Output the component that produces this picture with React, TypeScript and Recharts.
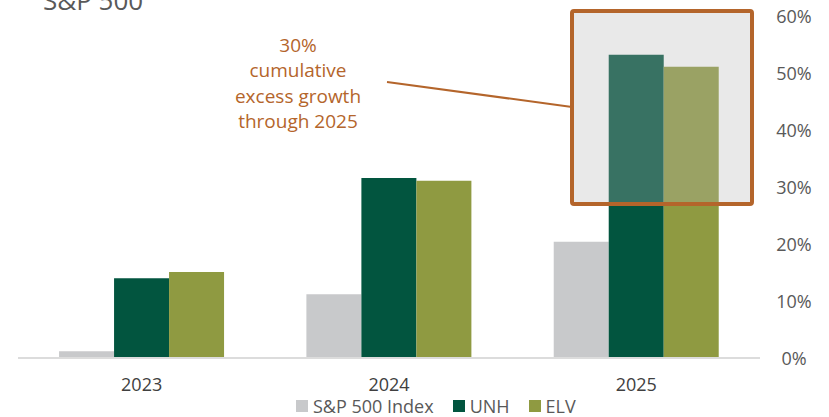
import { Bar, BarChart, Legend, XAxis, YAxis } from 'recharts'

// cumulative growth, % (read off the reference)
const years = ['2023', '2024', '2025']
const spxGrowth = [1.2, 11.2, 20.4]
const unhGrowth = [14.0, 31.6, 53.2]
const elvGrowth = [15.1, 31.1, 51.1]
const yTicks = [0, 10, 20, 30, 40, 50, 60]
const legendOrder = ['S&P 500 Index', 'UNH', 'ELV']
const noteLines = ['30%', 'cumulative', 'excess growth', 'through 2025']

const data = years.map((year, i) => ({
    year,
    spx: spxGrowth[i],
    unh: unhGrowth[i],
    elv: elvGrowth[i],
}))

const FONT = '"Open Sans", sans-serif'
const ACCENT = '#b4652b'

const YTick = ({ x, y, payload }: any) => (
    <text x={x + 34} y={y} textAnchor="middle" dominantBaseline="central" fill="#595959" fontSize={18} fontFamily={FONT}>
        {payload.value}%
    </text>
)

const XTick = ({ x, y, payload }: any) => (
    <text x={x} y={y + 26} textAnchor="middle" dominantBaseline="central" fill="#404040" fontSize={18} fontFamily={FONT}>
        {payload.value}
    </text>
)

const renderLegend = ({ payload }: any) => {
    const items = [...(payload || [])].sort(
        (a: any, b: any) => legendOrder.indexOf(a.value) - legendOrder.indexOf(b.value)
    )
    return (
        <div style={{ display: 'flex', alignItems: 'center', height: 20, lineHeight: '20px', paddingLeft: 296, fontFamily: FONT, fontSize: 18, color: '#595959' }}>
            {items.map((entry: any) => (
                <div key={entry.value} style={{ display: 'flex', alignItems: 'center', marginRight: 19 }}>
                    <span style={{ width: 12, height: 12, background: entry.color, marginRight: 5, display: 'inline-block' }} />
                    <span>{entry.value}</span>
                </div>
            ))}
        </div>
    )
}

export default function App() {
    return (
        <div style={{ position: 'absolute', left: 0, top: 0, width: 829, height: 417, background: '#fff' }}>
            <BarChart
                width={829}
                height={417}
                data={data}
                margin={{ top: 16, right: 0, bottom: 9, left: 18 }}
                barCategoryGap="16.6%"
                barGap={0}
            >
                <XAxis
                    dataKey="year"
                    height={30}
                    tickLine={false}
                    tickSize={0}
                    tickMargin={0}
                    axisLine={{ stroke: '#dcdcdc', strokeWidth: 2 }}
                    tick={<XTick />}
                />
                <YAxis
                    orientation="right"
                    width={69}
                    domain={[0, 60]}
                    ticks={yTicks}
                    axisLine={false}
                    tickLine={false}
                    tickSize={0}
                    tickMargin={0}
                    tick={<YTick />}
                />
                <Legend
                    verticalAlign="bottom"
                    content={renderLegend}
                    wrapperStyle={{ left: 0, width: 829, top: 396, bottom: 'auto' }}
                />
                <Bar dataKey="spx" name="S&P 500 Index" fill="#c8c9cb" isAnimationActive={false} />
                <Bar dataKey="unh" name="UNH" fill="#02553f" isAnimationActive={false} />
                <Bar dataKey="elv" name="ELV" fill="#8f9a41" isAnimationActive={false} />
            </BarChart>
            <svg width={829} height={417} style={{ position: 'absolute', left: 0, top: 0, pointerEvents: 'none' }}>
                <text x={43} y={10} fontSize={26} fill="#595959" fontFamily={FONT}>S&amp;P 500</text>
                <rect x={572} y={11} width={180} height={193} rx={2} fill="rgba(182,182,182,0.3)" stroke={ACCENT} strokeWidth={4} />
                <line x1={387} y1={82} x2={572} y2={107} stroke={ACCENT} strokeWidth={2} />
                {noteLines.map((line, i) => (
                    <text key={line} x={298} y={45 + i * 25.3} textAnchor="middle" dominantBaseline="central" fontSize={19} fill={ACCENT} fontFamily={FONT}>
                        {line}
                    </text>
                ))}
            </svg>
        </div>
    )
}
